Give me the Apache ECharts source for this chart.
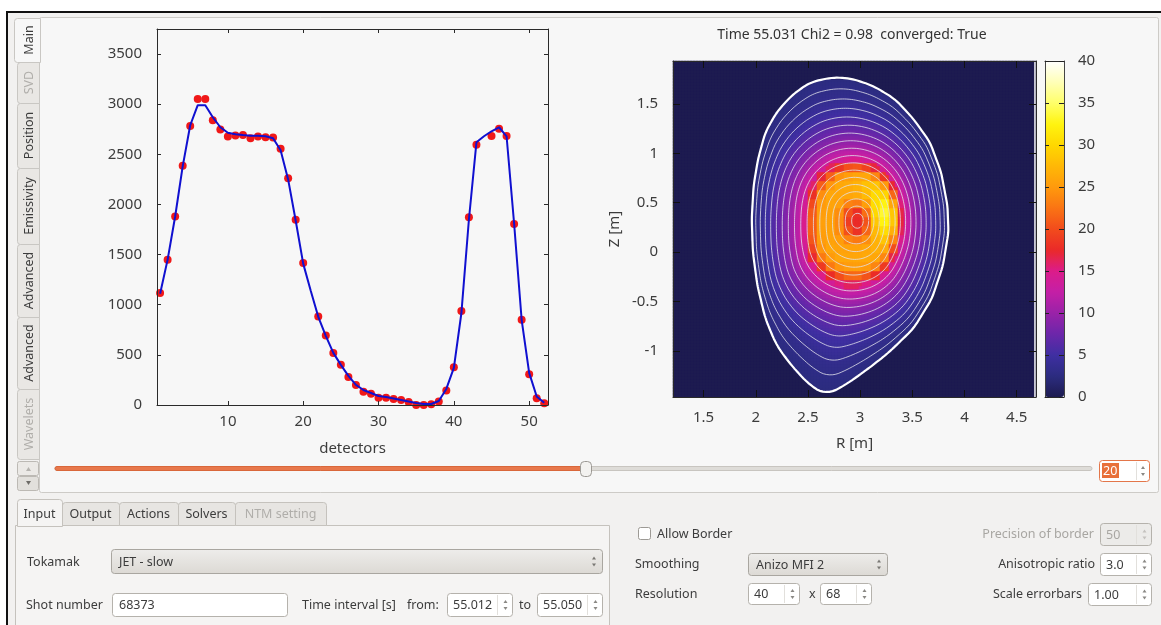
<!DOCTYPE html>
<html>
<head>
<meta charset="utf-8">
<title>Tomography - Main</title>
<script src="https://cdn.jsdelivr.net/npm/echarts@6/dist/echarts.min.js"></script>
<style>
  html, body { margin: 0; padding: 0; background: #fff; }
  #main { width: 1161px; height: 625px; }
</style>
</head>
<body>
<div id="main"></div>
<script>
// ---- left plot: detector signal (red dots) and fit (blue line) ----
const detectors = [1, 2, 3, 4, 5, 6, 7, 8, 9, 10, 11, 12, 13, 14, 15, 16, 17, 18, 19, 20, 21, 22, 23, 24, 25, 26,
  27, 28, 29, 30, 31, 32, 33, 34, 35, 36, 37, 38, 39, 40, 41, 42, 43, 44, 45, 46, 47, 48, 49, 50, 51, 52];
const measured = [1116, 1448, 1880, 2385, 2783, 3052, 3052, 2840, 2748, 2677, 2687, 2693, 2660, 2677, 2670, 2667,
  2555, 2262, 1847, 1415, null, 883, 694, 518, 402, 279, 199, 133, 113, 73, 73, 60, 50, 30, 0, 0, 7, 35, 145, 377,
  937, 1872, 2595, null, 2682, 2755, 2682, 1806, 849, 307, 68, 18];
const fitted = [1110, 1450, 1880, 2380, 2790, 2990, 2990, 2870, 2770, 2715, 2700, 2692, 2686, 2685, 2680, 2660,
  2540, 2250, 1840, 1410, 1140, 880, 690, 520, 400, 290, 200, 150, 120, 90, 80, 65, 50, 35, 20, 10, 10, 40, 160, 370,
  915, 1850, 2620, 2680, 2730, 2770, 2680, 1810, 850, 320, 85, 22];
const detTicks = [10, 20, 30, 40, 50];
const signalTicks = [0, 500, 1000, 1500, 2000, 2500, 3000, 3500];

// ---- right plot: emissivity reconstruction ----
const rTicks = [1.5, 2, 2.5, 3, 3.5, 4, 4.5];
const zTicks = [-1, -0.5, 0, 0.5, 1, 1.5];
const rRange = [1.207, 4.685];
const zRange = [-1.467, 1.934];
// last closed flux surface [m]
const boundaryR = [2.731, 2.518, 2.341, 2.2, 2.093, 2.023, 1.98, 1.962, 1.973, 2.016, 2.093, 2.2, 2.341, 2.518,
  2.671, 2.802, 3.014, 3.262, 3.51, 3.687, 3.793, 3.846, 3.836, 3.775, 3.669, 3.51, 3.333, 3.12, 2.908];
const boundaryZ = [1.768, 1.717, 1.582, 1.414, 1.212, 0.943, 0.673, 0.337, 0, -0.337, -0.673, -0.943, -1.145,
  -1.347, -1.445, -1.38, -1.229, -1.027, -0.774, -0.471, -0.135, 0.202, 0.471, 0.808, 1.111, 1.347, 1.549, 1.684, 1.758];
const magAxis = [2.98, 0.32];
// emissivity vs normalised radius
const emisRho = [0, 0.07, 0.13, 0.2, 0.3, 0.37, 0.43, 0.5, 0.6, 0.7, 0.8, 0.9, 1.0];
const emisVal = [17.5, 18, 22.5, 25.5, 26, 24, 18, 13, 9.5, 7, 5, 3.4, 2.4];
// bright (yellow) spot on the outboard side
const spotAmp = 7.5, spotRho = 0.29, spotRhoWidth = 0.15, spotAngle = 0.3, spotAngleWidth = 0.95;
// the core is shown with the coarse reconstruction pixels
const blockRho = 0.48, blockCells = 3;
const contourCount = 17;
const cmap = ['#1d1b50', '#2c2c80', '#3f2fa2', '#6c26aa', '#9a22a8', '#c41fa6', '#dc1c8a', '#ea2a28', '#f24c1c',
  '#fa7414', '#ff9a0c', '#ffb806', '#ffd800', '#fff410', '#ffff6a', '#ffffb8', '#ffffff'];

const plotFont = '"Noto Sans", "DejaVu Sans", sans-serif';
const uiFont = '12.5px "Noto Sans", sans-serif';

// ---- flux surface geometry ----
const N_TH = 360;
const R0 = magAxis[0], Z0 = magAxis[1];

function rayToBoundary(theta) {
  const dx = Math.cos(theta), dz = Math.sin(theta);
  const n = boundaryR.length;
  let best = Infinity;
  for (let i = 0; i < n; i++) {
    const ax = boundaryR[i] - R0, az = boundaryZ[i] - Z0;
    const ex = boundaryR[(i + 1) % n] - R0 - ax, ez = boundaryZ[(i + 1) % n] - Z0 - az;
    const den = dx * ez - dz * ex;
    if (Math.abs(den) < 1e-12) continue;
    const t = (ax * ez - az * ex) / den;
    const s = (ax * dz - az * dx) / den;
    if (t > 0 && s >= -1e-9 && s <= 1 + 1e-9) best = Math.min(best, t);
  }
  return best;
}

function smoothCircular(arr, half) {
  const n = arr.length;
  return arr.map((_, k) => {
    let sum = 0;
    for (let j = -half; j <= half; j++) sum += arr[(k + j + n) % n];
    return sum / (2 * half + 1);
  });
}

const rbRaw = [];
for (let k = 0; k < N_TH; k++) rbRaw.push(rayToBoundary((2 * Math.PI * k) / N_TH));
const rb = smoothCircular(rbRaw, 3);
const rs = smoothCircular(rb, 45);

function tableAt(table, theta) {
  let u = ((theta % (2 * Math.PI)) + 2 * Math.PI) % (2 * Math.PI);
  u = (u / (2 * Math.PI)) * N_TH;
  const i0 = Math.floor(u) % N_TH;
  const f = u - Math.floor(u);
  return table[i0] * (1 - f) + table[(i0 + 1) % N_TH] * f;
}

function surfRadius(rho, theta) {
  const w = Math.pow(rho, 5);
  return rho * (w * tableAt(rb, theta) + (1 - w) * tableAt(rs, theta));
}

function fluxLabel(R, Z) {
  const dx = R - R0, dz = Z - Z0;
  const d = Math.hypot(dx, dz);
  const th = Math.atan2(dz, dx);
  const b = tableAt(rb, th), s = tableAt(rs, th);
  if (d >= b) return [2, th];
  let rho = Math.min(1, d / s);
  for (let it = 0; it < 8; it++) {
    const w = Math.pow(rho, 5);
    rho = Math.min(1, d / (w * b + (1 - w) * s));
  }
  return [rho, th];
}

function profileAt(rho) {
  for (let i = 1; i < emisRho.length; i++) {
    if (rho <= emisRho[i]) {
      const f = (rho - emisRho[i - 1]) / (emisRho[i] - emisRho[i - 1]);
      return emisVal[i - 1] + f * (emisVal[i] - emisVal[i - 1]);
    }
  }
  return emisVal[emisVal.length - 1];
}

function emission(R, Z) {
  const [rho, th] = fluxLabel(R, Z);
  if (rho > 1) return 0;
  let da = th - spotAngle;
  while (da > Math.PI) da -= 2 * Math.PI;
  while (da < -Math.PI) da += 2 * Math.PI;
  const spot = spotAmp * Math.exp(-Math.pow((rho - spotRho) / spotRhoWidth, 2)) *
    Math.exp(-Math.pow(da / spotAngleWidth, 2));
  return profileAt(rho) + spot;
}

// heatmap cells (3 px each)
const nR = 121, nZ = 112;
const dR = (rRange[1] - rRange[0]) / nR, dZ = (zRange[1] - zRange[0]) / nZ;
const cellR = i => rRange[0] + (i + 0.5) * dR;
const cellZ = j => zRange[0] + (j + 0.5) * dZ;
const heatData = [];
for (let i = 0; i < nR; i++) {
  for (let j = 0; j < nZ; j++) {
    let v = emission(cellR(i), cellZ(j));
    if (fluxLabel(cellR(i), cellZ(j))[0] < blockRho) {
      const ic = Math.floor(i / blockCells) * blockCells + 1;
      const jc = Math.floor(j / blockCells) * blockCells + 1;
      v = emission(cellR(ic), cellZ(jc));
    }
    heatData.push([i, j, +v.toFixed(2)]);
  }
}
const catR = Array.from({ length: nR }, (_, i) => String(i));
const catZ = Array.from({ length: nZ }, (_, j) => String(j));

function surfacePoints(rho) {
  const pts = [];
  for (let k = 0; k <= N_TH; k++) {
    const th = (2 * Math.PI * k) / N_TH;
    const r = rho >= 1 ? tableAt(rb, th) : surfRadius(rho, th);
    pts.push([R0 + r * Math.cos(th), Z0 + r * Math.sin(th)]);
  }
  return pts;
}

const contourSeries = [];
for (let k = 1; k <= contourCount; k++) {
  contourSeries.push({
    type: 'line', xAxisIndex: 3, yAxisIndex: 3, data: surfacePoints(k / (contourCount + 1)),
    showSymbol: false, silent: true, z: 4,
    lineStyle: { color: 'rgba(225,225,235,0.8)', width: 1 },
  });
}
contourSeries.push({
  type: 'line', xAxisIndex: 3, yAxisIndex: 3, data: surfacePoints(1),
  showSymbol: false, silent: true, z: 5, lineStyle: { color: '#ffffff', width: 2.2 },
});
// thin white strip at right edge of the image
contourSeries.push({
  type: 'line', xAxisIndex: 3, yAxisIndex: 3, data: [[4.675, zRange[0]], [4.675, zRange[1]]],
  showSymbol: false, silent: true, z: 5, lineStyle: { color: '#f4f4f4', width: 1.5 },
});

// ---- GUI widgets drawn as graphics ----
const gui = [];
function box(x, y, w, h, fill, stroke, r, z) {
  gui.push({
    type: 'rect', z: z == null ? -8 : z, silent: true,
    shape: { x, y, width: w, height: h, r: r || 0 },
    style: { fill, stroke: stroke || null, lineWidth: stroke ? 1 : 0 },
  });
}
function label(text, x, y, opts) {
  opts = opts || {};
  gui.push({
    type: 'text', z: opts.z == null ? -4 : opts.z, silent: true, x, y, rotation: opts.rot || 0,
    style: {
      text, x: 0, y: 0, fill: opts.color || '#3c3c3c', font: opts.font || uiFont,
      textAlign: opts.align || 'left', textVerticalAlign: 'middle',
    },
  });
}
function vline(x, y1, y2, color, w) {
  gui.push({ type: 'line', z: -6, silent: true, shape: { x1: x, y1, x2: x, y2 }, style: { stroke: color, lineWidth: w || 1 } });
}
function arrows(cx, cy, color) {
  gui.push({ type: 'polygon', z: -3, silent: true, shape: { points: [[cx - 2, cy - 2], [cx + 2, cy - 2], [cx, cy - 5]] }, style: { fill: color } });
  gui.push({ type: 'polygon', z: -3, silent: true, shape: { points: [[cx - 2, cy + 2], [cx + 2, cy + 2], [cx, cy + 5]] }, style: { fill: color } });
}
function spin(x, y, w, h, value, disabled) {
  box(x + 0.5, y + 0.5, w, h, disabled ? '#ecebe9' : '#ffffff', '#b5b2ac', 3, -6);
  vline(x + w - 14.5, y + 2, y + h - 1, '#e2e0dc');
  label(value, x + 6, y + h / 2 + 1, { color: disabled ? '#a8a6a2' : '#3c3c3c', z: -3 });
  arrows(x + w - 6.5, y + h / 2 + 0.5, disabled ? '#c4c2be' : '#8a8884');
}
function combo(x, y, w, h, value) {
  gui.push({
    type: 'rect', z: -6, silent: true, shape: { x: x + 0.5, y: y + 0.5, width: w, height: h, r: 3 },
    style: {
      stroke: '#a9a6a0', lineWidth: 1,
      fill: { type: 'linear', x: 0, y: 0, x2: 0, y2: 1, colorStops: [{ offset: 0, color: '#eeedeb' }, { offset: 1, color: '#dcd9d4' }] },
    },
  });
  label(value, x + 8, y + h / 2 + 1, { z: -3 });
  arrows(x + w - 8, y + h / 2 + 0.5, '#7a7874');
}

// window frame
box(0, 0, 1161, 625, '#ffffff', null, 0, -10);
box(8, 13, 1153, 612, '#f2f1f0', null, 0, -9);
box(6, 11, 1155, 2, '#111111', null, 0, -7);
box(6, 11, 2, 614, '#111111', null, 0, -7);

// top tab page
box(39.5, 17.5, 1119, 475, '#f7f7f7', '#cdcbc7', 2, -8);
const sideTabs = [
  ['Main', 18, 62, true, false], ['SVD', 62, 103, false, true], ['Position', 103, 168, false, false],
  ['Emissivity', 168, 244, false, false], ['Advanced', 244, 317, false, false],
  ['Advanced', 317, 389, false, false], ['Wavelets', 389, 459, false, true],
];
sideTabs.forEach(([name, y1, y2, sel, dis]) => {
  box(sel ? 14.5 : 17.5, y1 + 0.5, sel ? 26 : 22, y2 - y1, sel ? '#f7f7f7' : '#e9e7e4', '#c9c7c3', [3, 0, 0, 3], sel ? -7 : -8);
  label(name, 29, (y1 + y2) / 2, { rot: Math.PI / 2, align: 'center', color: dis ? '#b0aeaa' : '#3c3c3c' });
});
box(17.5, 461.5, 21, 14, '#ebe9e6', '#bcb9b4', 2, -7);
box(17.5, 476.5, 21, 14, '#e2e0dc', '#bcb9b4', 2, -7);
gui.push({ type: 'polygon', z: -3, silent: true, shape: { points: [[26, 471], [31, 471], [28.5, 467]] }, style: { fill: '#b5b3af' } });
gui.push({ type: 'polygon', z: -3, silent: true, shape: { points: [[26, 481], [31, 481], [28.5, 485]] }, style: { fill: '#6e6c68' } });

// frame slider
box(55, 466.5, 1037, 4, '#dedcd8', '#c8c5c0', 2, -6);
box(55, 466.5, 531, 4, '#e8784c', '#d9673b', 2, -5);
box(580.5, 461.5, 11, 15, '#f3f2f0', '#9c9994', 4, -4);
vline(586, 465, 473, '#c2bfba');
box(1099.5, 460.5, 50, 21, '#ffffff', '#e3764a', 3, -6);
vline(1136.5, 462, 480, '#e2e0dc');
box(1102, 463, 17, 15, '#e8703a', null, 0, -5);
label('20', 1103, 471, { color: '#ffffff', z: -3 });
arrows(1143, 471, '#8a8884');

// bottom tab widget
box(15.5, 525.5, 594, 110, '#f5f4f3', '#c5c2bd', 0, -8);
const bottomTabs = [['Input', 17, 62, true, false], ['Output', 62, 119, false, false], ['Actions', 119, 178, false, false],
  ['Solvers', 178, 235, false, false], ['NTM setting', 235, 326, false, true]];
bottomTabs.forEach(([name, x1, x2, sel, dis]) => {
  box(x1 + 0.5, sel ? 499.5 : 502.5, x2 - x1, sel ? 27 : 23, sel ? '#f5f4f3' : '#e7e5e2', '#c5c2bd', [3, 3, 0, 0], sel ? -7 : -8);
  label(name, (x1 + x2) / 2, 514, { align: 'center', color: dis ? '#b0aeaa' : '#3c3c3c' });
});
label('Tokamak', 27, 562);
combo(111, 549, 491, 24, 'JET - slow');
label('Shot number', 26, 605);
box(112.5, 593.5, 175, 23, '#ffffff', '#b5b2ac', 3, -6);
label('68373', 119, 605);
label('Time interval [s]', 302, 605);
label('from:', 407, 605);
spin(447, 593, 65, 23, '55.012');
label('to', 519, 605);
spin(537, 593, 65, 23, '55.050');

// right side settings
box(638.5, 527.5, 12, 12, '#ffffff', '#9d9a95', 2, -6);
label('Allow Border', 657, 534);
label('Smoothing', 635, 564);
combo(748, 553, 139, 22, 'Anizo MFI 2');
label('Resolution', 635, 594);
spin(748, 583, 51, 21, '40');
label('x', 809, 594);
spin(820, 583, 51, 21, '68');
label('Precision of border', 1094, 534, { align: 'right', color: '#a8a6a2' });
spin(1100, 523, 51, 22, '50', true);
label('Anisotropic ratio', 1095, 564, { align: 'right' });
spin(1100, 553, 51, 22, '3.0');
label('Scale errorbars', 1082, 594, { align: 'right' });
spin(1088, 583, 63, 22, '1.00');

// plot title
label('Time 55.031 Chi2 = 0.98  converged: True', 852, 35, { align: 'center', font: '14px ' + plotFont, color: '#333333', z: 5 });

// ---- axes helpers ----
const tickLbl = { fontSize: 15, color: '#3c3c3c', fontFamily: plotFont, formatter: v => String(v) };
function frameAxis(base, extra) {
  return Object.assign({
    type: 'value', splitLine: { show: false }, z: 10,
    axisLine: { show: true, onZero: false, lineStyle: { color: '#2a2a2a', width: 1 } },
  }, base, extra);
}

const heatBox = { left: 673, top: 61, width: 363, height: 336 };

const option = {
  backgroundColor: '#ffffff',
  animation: false,
  textStyle: { fontFamily: plotFont },
  graphic: { elements: gui },
  grid: [
    { left: 157, top: 29, width: 391, height: 376 },
    Object.assign({ show: true, backgroundColor: cmap[0], borderWidth: 0 }, heatBox),
    Object.assign({}, heatBox),
    { left: 1045, top: 61, width: 19, height: 336 },
  ],
  xAxis: [
    frameAxis({ gridIndex: 0, position: 'bottom', min: 0.59, max: 52.5 }, {
      axisTick: { inside: true, length: 4, customValues: detTicks, lineStyle: { color: '#2a2a2a' } },
      axisLabel: Object.assign({ margin: 9, customValues: detTicks }, tickLbl),
      name: 'detectors', nameLocation: 'middle', nameGap: 36,
      nameTextStyle: { fontSize: 15, color: '#3c3c3c', fontFamily: plotFont },
    }),
    frameAxis({ gridIndex: 0, position: 'top', min: 0.59, max: 52.5 }, {
      axisTick: { inside: true, length: 4, customValues: detTicks, lineStyle: { color: '#2a2a2a' } },
      axisLabel: { show: false },
    }),
    { type: 'category', gridIndex: 1, data: catR, show: false },
    frameAxis({ gridIndex: 2, position: 'bottom', min: rRange[0], max: rRange[1] }, {
      axisTick: { inside: true, length: 7, customValues: rTicks, lineStyle: { color: '#111' } },
      axisLabel: Object.assign({ margin: 13, customValues: rTicks }, tickLbl),
      name: 'R [m]', nameLocation: 'middle', nameGap: 39,
      nameTextStyle: { fontSize: 15, color: '#3c3c3c', fontFamily: plotFont },
    }),
    frameAxis({ gridIndex: 2, position: 'top', min: rRange[0], max: rRange[1] }, {
      axisTick: { inside: true, length: 7, customValues: rTicks, lineStyle: { color: '#111' } },
      axisLabel: { show: false },
    }),
    frameAxis({ gridIndex: 3, position: 'bottom', min: 0, max: 1 }, { axisTick: { show: false }, axisLabel: { show: false } }),
    frameAxis({ gridIndex: 3, position: 'top', min: 0, max: 1 }, { axisTick: { show: false }, axisLabel: { show: false } }),
  ],
  yAxis: [
    frameAxis({ gridIndex: 0, position: 'left', min: 0, max: 3750 }, {
      axisTick: { inside: true, length: 4, customValues: signalTicks, lineStyle: { color: '#2a2a2a' } },
      axisLabel: Object.assign({ margin: 15, customValues: signalTicks }, tickLbl),
    }),
    frameAxis({ gridIndex: 0, position: 'right', min: 0, max: 3750 }, {
      axisTick: { inside: true, length: 4, customValues: signalTicks, lineStyle: { color: '#2a2a2a' } },
      axisLabel: { show: false },
    }),
    { type: 'category', gridIndex: 1, data: catZ, show: false },
    frameAxis({ gridIndex: 2, position: 'left', min: zRange[0], max: zRange[1] }, {
      axisTick: { inside: true, length: 7, customValues: zTicks, lineStyle: { color: '#111' } },
      axisLabel: Object.assign({ margin: 15, customValues: zTicks }, tickLbl),
      name: 'Z [m]', nameLocation: 'middle', nameGap: 51, nameRotate: 90,
      nameTextStyle: { fontSize: 15, color: '#3c3c3c', fontFamily: plotFont },
    }),
    frameAxis({ gridIndex: 2, position: 'right', min: zRange[0], max: zRange[1] }, {
      axisTick: { inside: true, length: 7, customValues: zTicks, lineStyle: { color: '#111' } },
      axisLabel: { show: false },
    }),
    frameAxis({ gridIndex: 3, position: 'right', min: 0, max: 40, interval: 5 }, {
      axisLine: { show: true, onZero: false, lineStyle: { color: '#444', width: 1 } },
      axisTick: { inside: true, length: 5, lineStyle: { color: '#222' } },
      axisLabel: Object.assign({ margin: 14 }, tickLbl),
    }),
    frameAxis({ gridIndex: 3, position: 'left', min: 0, max: 40, interval: 5 }, {
      axisLine: { show: true, onZero: false, lineStyle: { color: '#444', width: 1 } },
      axisTick: { inside: true, length: 4, lineStyle: { color: '#222' } },
      axisLabel: { show: false },
    }),
  ],
  visualMap: {
    type: 'continuous', min: 0, max: 40, seriesIndex: 2, show: true, calculable: false, hoverLink: false,
    orient: 'vertical', left: 1045, top: 61, itemWidth: 19, itemHeight: 336, padding: 0,
    text: null, inRange: { color: cmap },
  },
  series: [
    {
      type: 'scatter', xAxisIndex: 0, yAxisIndex: 0, symbolSize: 8, z: 3,
      itemStyle: { color: '#f01818', opacity: 1 },
      data: detectors.map((d, i) => [d, measured[i]]).filter(p => p[1] !== null),
    },
    {
      type: 'line', xAxisIndex: 0, yAxisIndex: 0, showSymbol: false, z: 4,
      lineStyle: { color: '#1010d0', width: 2 },
      data: detectors.map((d, i) => [d, fitted[i]]),
    },
    {
      type: 'heatmap', xAxisIndex: 2, yAxisIndex: 2, data: heatData, progressive: 0, silent: true, z: 1,
    },
  ].concat(contourSeries),
};

const chart = echarts.init(document.getElementById('main'), null, { renderer: 'canvas' });
chart.setOption(option);
</script>
</body>
</html>
